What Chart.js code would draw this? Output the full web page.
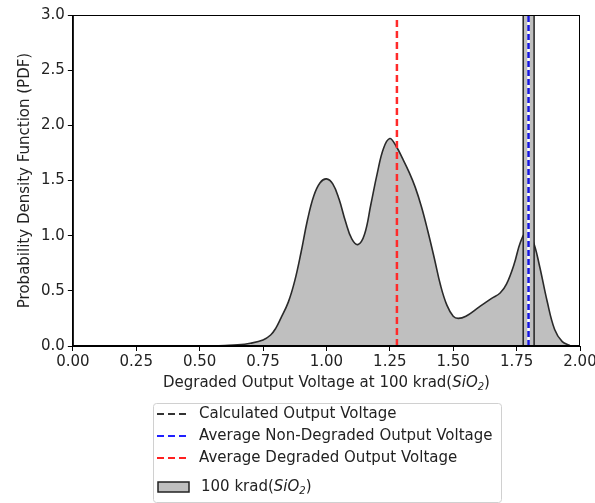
<!DOCTYPE html>
<html lang="en">
<head>
<meta charset="UTF-8">
<title>Degraded Output Voltage PDF</title>
<script src="https://cdn.jsdelivr.net/npm/chart.js"></script>
<style>
  html, body { margin: 0; padding: 0; background: #fff; }
  #box { width: 595px; height: 503px; }
</style>
</head>
<body>
<div id="box"><canvas id="grafico"></canvas></div>

<script>
// KDE of degraded output voltage (100 krad)
var voltages = [0.48, 0.55, 0.60, 0.65, 0.70, 0.75, 0.78, 0.80, 0.82, 0.85, 0.875, 0.90, 0.925, 0.95, 0.975,
                1.00, 1.025, 1.05, 1.075, 1.10, 1.125, 1.15, 1.175, 1.20, 1.225, 1.25, 1.275, 1.30, 1.325,
                1.35, 1.375, 1.40, 1.425, 1.45, 1.475, 1.50, 1.52, 1.55, 1.60, 1.65, 1.685, 1.71, 1.74,
                1.765, 1.79, 1.815, 1.84, 1.87, 1.90, 1.93, 1.96];
var densidade = [0, 0.002, 0.005, 0.01, 0.025, 0.055, 0.10, 0.16, 0.25, 0.40, 0.59, 0.85, 1.14, 1.36, 1.48,
                 1.515, 1.47, 1.33, 1.13, 0.97, 0.92, 1.01, 1.28, 1.56, 1.79, 1.88, 1.81, 1.70, 1.58,
                 1.44, 1.26, 1.04, 0.80, 0.55, 0.37, 0.27, 0.25, 0.27, 0.35, 0.43, 0.48, 0.56, 0.74,
                 0.94, 1.04, 0.95, 0.73, 0.41, 0.15, 0.04, 0.005];

// narrow non-degraded peak (goes off the top of the plot)
var picoX = [1.776, 1.776, 1.819, 1.819];
var picoY = [0, 4, 4, 0];

var calculada = 1.797;
var mediaNaoDegradada = 1.797;
var mediaDegradada = 1.278;

var xTicks = [0, 0.25, 0.5, 0.75, 1.0, 1.25, 1.5, 1.75, 2.0];
var yTicks = [0, 0.5, 1.0, 1.5, 2.0, 2.5, 3.0];

var legendas = ['Calculated Output Voltage', 'Average Non-Degraded Output Voltage', 'Average Degraded Output Voltage'];

function pontos(xs, ys) {
    var r = [];
    for (var i = 0; i < xs.length; i++) r.push({ x: xs[i], y: ys[i] });
    return r;
}
function vertical(x) {
    return [{ x: x, y: 0 }, { x: x, y: 3 }];
}

var fonte = 'DejaVu Sans';
var tam = 15;

var extras = {
    id: 'extras',
    afterDraw: function (chart) {
        var ctx = chart.ctx;
        var a = chart.chartArea;
        ctx.save();
        // frame
        ctx.strokeStyle = '#000';
        ctx.lineWidth = 1;
        ctx.strokeRect(a.left + 0.5, a.top + 0.5, a.right - a.left - 1, a.bottom - a.top - 1);

        // x title with italic SiO2
        var partes = [
            { t: 'Degraded Output Voltage at 100 krad(', f: tam + 'px ' + fonte, dy: 0 },
            { t: 'SiO', f: 'italic ' + tam + 'px ' + fonte, dy: 0 },
            { t: '2', f: 'italic 10px ' + fonte, dy: 4 },
            { t: ')', f: tam + 'px ' + fonte, dy: 0 }
        ];
        var total = 0;
        partes.forEach(function (p) { ctx.font = p.f; total += ctx.measureText(p.t).width; });
        var cx = (a.left + a.right) / 2 - total / 2;
        ctx.fillStyle = '#222';
        ctx.textBaseline = 'middle';
        partes.forEach(function (p) {
            ctx.font = p.f;
            ctx.fillText(p.t, cx, 383 + p.dy);
            cx += ctx.measureText(p.t).width;
        });

        // legend box
        var lx = 153, ly = 403, lw = 348, lh = 99;
        ctx.fillStyle = '#fff';
        ctx.strokeStyle = '#d0d0d0';
        ctx.lineWidth = 1;
        ctx.beginPath();
        ctx.roundRect(lx + 0.5, ly + 0.5, lw, lh, 3);
        ctx.fill();
        ctx.stroke();

        var cores = ['#333333', '#2020ff', '#ff2020'];
        var ys = [414, 436, 458];
        ctx.font = tam + 'px ' + fonte;
        for (var i = 0; i < 3; i++) {
            ctx.strokeStyle = cores[i];
            ctx.lineWidth = 2;
            ctx.setLineDash([7, 4]);
            ctx.beginPath();
            ctx.moveTo(157, ys[i]);
            ctx.lineTo(189, ys[i]);
            ctx.stroke();
            ctx.setLineDash([]);
            ctx.fillStyle = '#222';
            ctx.fillText(legendas[i], 199, ys[i]);
        }
        // patch
        ctx.fillStyle = '#bfbfbf';
        ctx.strokeStyle = '#222';
        ctx.lineWidth = 1.5;
        ctx.fillRect(158, 482, 31, 10);
        ctx.strokeRect(158, 482, 31, 10);
        var px = 201, py = 487;
        ctx.fillStyle = '#222';
        ctx.font = tam + 'px ' + fonte;
        ctx.fillText('100 krad(', px, py);
        px += ctx.measureText('100 krad(').width;
        ctx.font = 'italic ' + tam + 'px ' + fonte;
        ctx.fillText('SiO', px, py);
        px += ctx.measureText('SiO').width;
        ctx.font = 'italic 10px ' + fonte;
        ctx.fillText('2', px, py + 4);
        px += ctx.measureText('2').width;
        ctx.font = tam + 'px ' + fonte;
        ctx.fillText(')', px, py);
        ctx.restore();
    }
};

var config = {
    type: 'line',
    data: {
        datasets: [
            {
                label: 'Average Degraded Output Voltage',
                data: vertical(mediaDegradada),
                borderColor: '#ff2a2a',
                borderWidth: 2.5,
                borderDash: [7, 4],
                pointRadius: 0,
                fill: false,
                order: 0
            },
            {
                label: 'Average Non-Degraded Output Voltage',
                data: vertical(mediaNaoDegradada),
                borderColor: '#1515e0',
                borderWidth: 2.5,
                borderDash: [6, 3],
                pointRadius: 0,
                fill: false,
                order: 1
            },
            {
                label: 'Calculated Output Voltage',
                data: vertical(calculada),
                borderColor: '#ffffff',
                borderWidth: 2.5,
                pointRadius: 0,
                fill: false,
                order: 2
            },
            {
                label: 'pico',
                data: pontos(picoX, picoY),
                borderColor: '#222',
                borderWidth: 1.5,
                backgroundColor: '#bfbfbf',
                pointRadius: 0,
                tension: 0,
                fill: 'origin',
                order: 3
            },
            {
                label: '100 krad(SiO2)',
                data: pontos(voltages, densidade),
                borderColor: '#2a2a2a',
                borderWidth: 1.6,
                backgroundColor: '#bfbfbf',
                pointRadius: 0,
                tension: 0.4,
                fill: 'origin',
                order: 4
            }
        ]
    },
    options: {
        responsive: true,
        maintainAspectRatio: false,
        animation: false,
        layout: { padding: { left: 16, right: 15, top: 15, bottom: 130 } },
        plugins: {
            legend: { display: false },
            tooltip: { enabled: false }
        },
        scales: {
            x: {
                type: 'linear',
                min: 0,
                max: 2,
                afterBuildTicks: function (axis) { axis.ticks = xTicks.map(function (v) { return { value: v }; }); },
                afterFit: function (axis) { axis.paddingLeft = 0; axis.paddingRight = 0; },
                grid: { drawOnChartArea: false, drawTicks: true, tickLength: 5, color: '#000' },
                border: { color: '#000', width: 1 },
                ticks: {
                    color: '#222',
                    font: { family: fonte, size: tam },
                    maxRotation: 0,
                    padding: 2,
                    callback: function (v) { return Number(v).toFixed(2); }
                }
            },
            y: {
                min: 0,
                max: 3,
                afterBuildTicks: function (axis) { axis.ticks = yTicks.map(function (v) { return { value: v }; }); },
                grid: { drawOnChartArea: false, drawTicks: true, tickLength: 5, color: '#000' },
                border: { color: '#000', width: 1 },
                title: {
                    display: true,
                    text: 'Probability Density Function (PDF)',
                    color: '#222',
                    font: { family: fonte, size: tam },
                    padding: { top: 0, bottom: 4 }
                },
                ticks: {
                    color: '#222',
                    font: { family: fonte, size: tam },
                    padding: 3,
                    callback: function (v) { return Number(v).toFixed(1); }
                }
            }
        }
    },
    plugins: [extras]
};

new Chart(document.getElementById('grafico').getContext('2d'), config);
</script>
</body>
</html>
